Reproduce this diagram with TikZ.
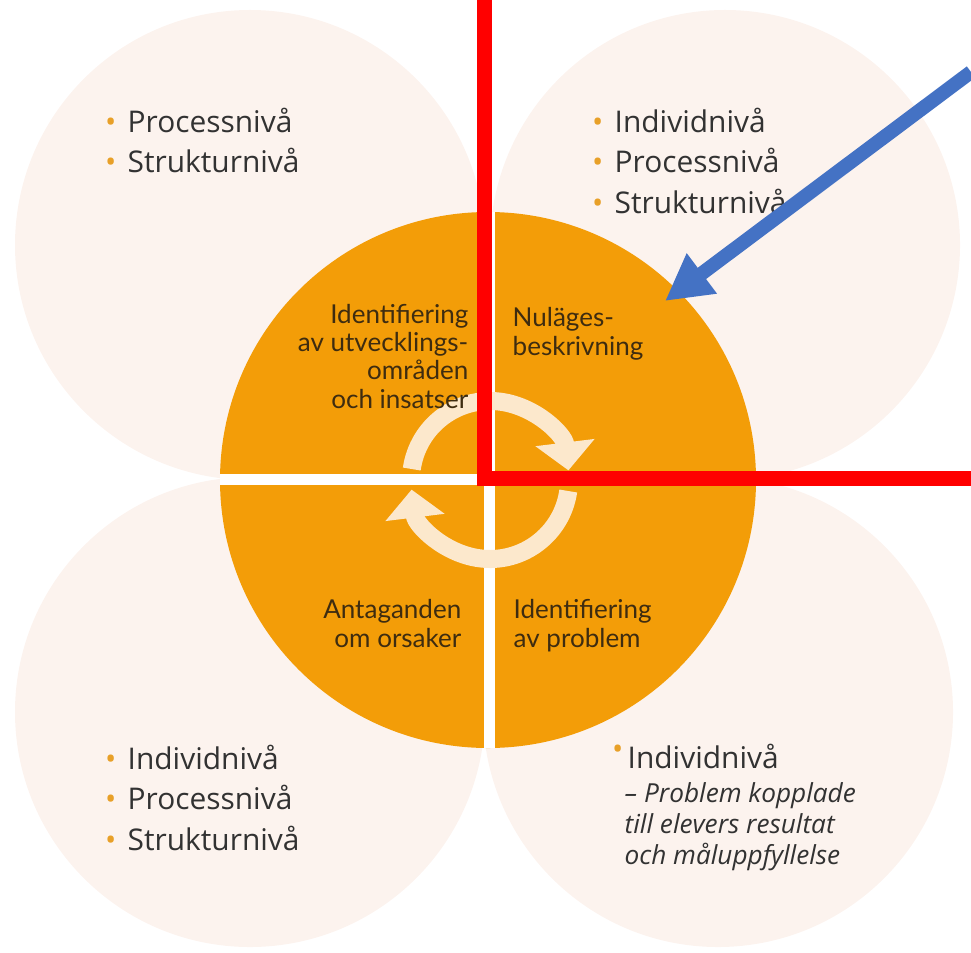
\documentclass[tikz,border=0pt]{standalone}
\usepackage{fontspec}
\setmainfont{Open Sans}
\newfontfamily\hjulfont{Lato}
\usepackage{tikz}
\usetikzlibrary{arrows.meta}
\definecolor{pale}{RGB}{252,243,238}
\definecolor{hjul}{RGB}{243,157,8}
\definecolor{pil}{RGB}{252,232,204}
\definecolor{prick}{RGB}{232,160,40}
\definecolor{brodtext}{RGB}{50,50,50}
\definecolor{hjultext}{RGB}{62,44,16}
\definecolor{markering}{RGB}{255,0,0}
\definecolor{blapil}{RGB}{68,114,196}
\newcommand{\punkt}{\makebox[0pt]{\textcolor{prick}{\textbullet}}\hspace{0.17cm}}
\newcommand{\hogpunkt}{\makebox[0pt]{\raisebox{2.4pt}{\textcolor{prick}{\textbullet}}}\hspace{0.1cm}}

\begin{document}
\begin{tikzpicture}[x=0.01cm,y=-0.01cm,
  lista/.style={anchor=base west,inner sep=0pt,align=left,text=brodtext,
    font=\fontsize{8.5}{11.4}\selectfont},
  fas/.style={inner sep=0pt,text=hjultext,font=\hjulfont\fontsize{7.4}{8}\selectfont},
  cykel/.style={pil,line width=0.18cm,-{Triangle[width=0.58cm,length=0.28cm]}}]
\useasboundingbox (0,0) rectangle (971,952);
\fill[pale] (250,245) circle (235);
\fill[pale] (725,245) circle (235);
\fill[pale] (250,712) circle (235);
\fill[pale] (718,712) circle (235);
\fill[hjul] (488,480) circle (268);
\begin{scope}
\clip (488,480) circle (268);
\fill[white] (0,474) rectangle (971,485);
\fill[white] (484,0) rectangle (495,952);
\end{scope}
\draw[cykel] (490,480) ++(188:79) arc[start angle=188,end angle=353,radius=79];
\draw[cykel] (490,480) ++(8:79) arc[start angle=8,end angle=173,radius=79];
\node[lista] (tv) at (110,173) {\punkt Processnivå\\\punkt Strukturnivå};
\node[lista] (th) at (597,213) {\punkt Individnivå\\\punkt Processnivå\\\punkt Strukturnivå};
\node[lista] (bv) at (110,850) {\punkt Individnivå\\\punkt Processnivå\\\punkt Strukturnivå};
\node[lista] (bh) at (617,768) {\hogpunkt Individnivå};
\node[lista,font=\fontsize{7.45}{8.8}\selectfont\itshape] (bhnot) at (624,864)
  {– Problem kopplade\\till elevers resultat\\och måluppfyllelse};
\node[fas,anchor=base east,align=right] (insatser) at (469,408)
  {Identifiering\\av utvecklings-\\områden\\och insatser};
\node[fas,anchor=base west,align=left] (nulage) at (512,355) {Nuläges-\\beskrivning};
\node[fas,anchor=base east,align=right] (orsaker) at (462,647) {Antaganden\\om orsaker};
\node[fas,anchor=base west,align=left] (problem) at (513,647) {Identifiering\\av problem};
\draw[markering,line width=0.15cm] (484.5,0) -- (484.5,478.5) -- (971,478.5);
\coordinate (pilstart) at (971,72);
\coordinate (pilspets) at (665,301);
\draw[blapil,line width=0.14cm,-{Triangle[width=0.47cm,length=0.46cm]}] (pilstart) -- (pilspets);
\end{tikzpicture}
\end{document}
